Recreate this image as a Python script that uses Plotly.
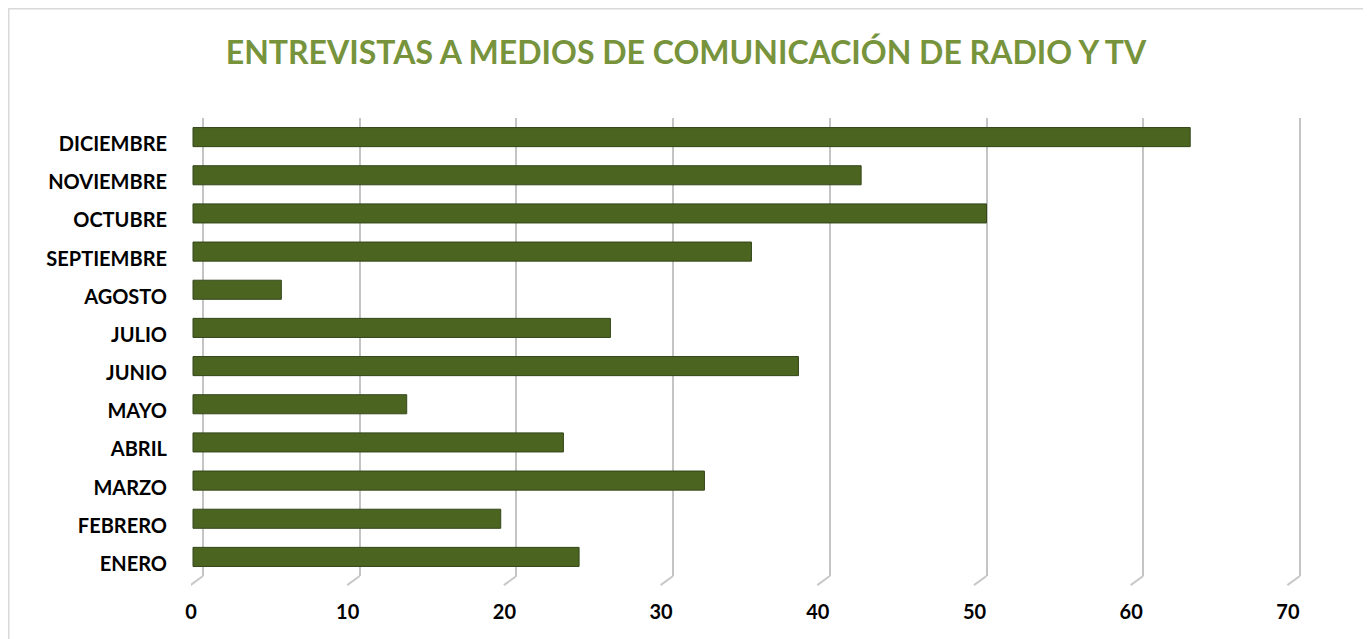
import plotly.graph_objects as go

months = ["ENERO", "FEBRERO", "MARZO", "ABRIL", "MAYO", "JUNIO", "JULIO",
          "AGOSTO", "SEPTIEMBRE", "OCTUBRE", "NOVIEMBRE", "DICIEMBRE"]
values = [24, 19, 32, 23, 13, 38, 26, 5, 35, 50, 42, 63]
x_ticks = [0, 10, 20, 30, 40, 50, 60, 70]
title = "ENTREVISTAS A MEDIOS DE COMUNICACIÓN DE RADIO Y TV"

# page body has an 8px default margin; figure is sized to compensate
OFF = 8
W, H = 1371 - OFF, 639 - OFF
ML, MR, MT, MB = 191 - OFF, 66, 118 - OFF, 63
plot_w = W - ML - MR
plot_h = H - MT - MB
px_per_unit = 15.67
front_max = plot_w / px_per_unit
depth = 12 / px_per_unit      # 3D depth offset (front plane -> back plane)
bevel = 10 / px_per_unit      # bar front face starts in front of the back plane

fig = go.Figure()
# invisible trace so the front-plane value axis (tick labels) is drawn
fig.add_trace(go.Scatter(x=[x_ticks[0]], y=[months[0]], xaxis="x", mode="markers",
                         marker=dict(opacity=0), showlegend=False, hoverinfo="skip"))
# bars drawn in back-plane coordinates, front face extending toward viewer
fig.add_trace(go.Bar(
    y=months, x=[v + bevel for v in values], base=-bevel, orientation="h",
    xaxis="x2", customdata=values,
    marker=dict(color="#4B6420", line=dict(color="#34471A", width=1)),
    width=0.5, hovertemplate="%{y}: %{customdata}<extra></extra>", showlegend=False,
))

shapes = []
for t in x_ticks:
    shapes.append(dict(type="line", xref="x2", yref="paper",
                       x0=t, x1=t - 0.8, y0=0.0, y1=-0.02,
                       line=dict(color="#C8C8C8", width=2)))
# chart outer border
shapes.append(dict(type="rect", xref="paper", yref="paper",
                   x0=-(ML - 0.5) / plot_w, x1=1 + (MR - 7 + OFF) / plot_w,
                   y0=-(MB + 5) / plot_h, y1=1 + (MT - 0.5) / plot_h,
                   line=dict(color="#D9D9D9", width=2), layer="below"))

fig.update_layout(
    width=W, height=H,
    margin=dict(l=ML, r=MR, t=MT, b=MB),
    paper_bgcolor="white", plot_bgcolor="white",
    title=dict(text=title, x=(686 - OFF) / W, xref="container", xanchor="center",
               y=1 - (53 - OFF) / H, yref="container", yanchor="middle",
               font=dict(family="Lato", size=32, color="#77933C", weight="bold")),
    xaxis=dict(range=[0, front_max], tickvals=x_ticks, showgrid=False, zeroline=False,
               showline=False, ticks="", ticklabelstandoff=22,
               tickfont=dict(family="Lato", size=20, color="#000000", weight="bold")),
    xaxis2=dict(range=[-depth, front_max - depth], overlaying="x", tickvals=x_ticks,
                showgrid=True, gridcolor="#C4C4C4", gridwidth=2, showticklabels=False,
                zeroline=False, showline=False, anchor="y", layer="below traces"),
    yaxis=dict(type="category", categoryorder="array", categoryarray=months,
               range=[-0.5, 11.5], showgrid=False, zeroline=False, showline=False,
               ticks="", ticklabelstandoff=23, ticklabelshift=7,
               tickfont=dict(family="Lato", size=20, color="#000000", weight="bold")),
    shapes=shapes,
    bargap=0.5,
)
fig.write_html("out.html")
